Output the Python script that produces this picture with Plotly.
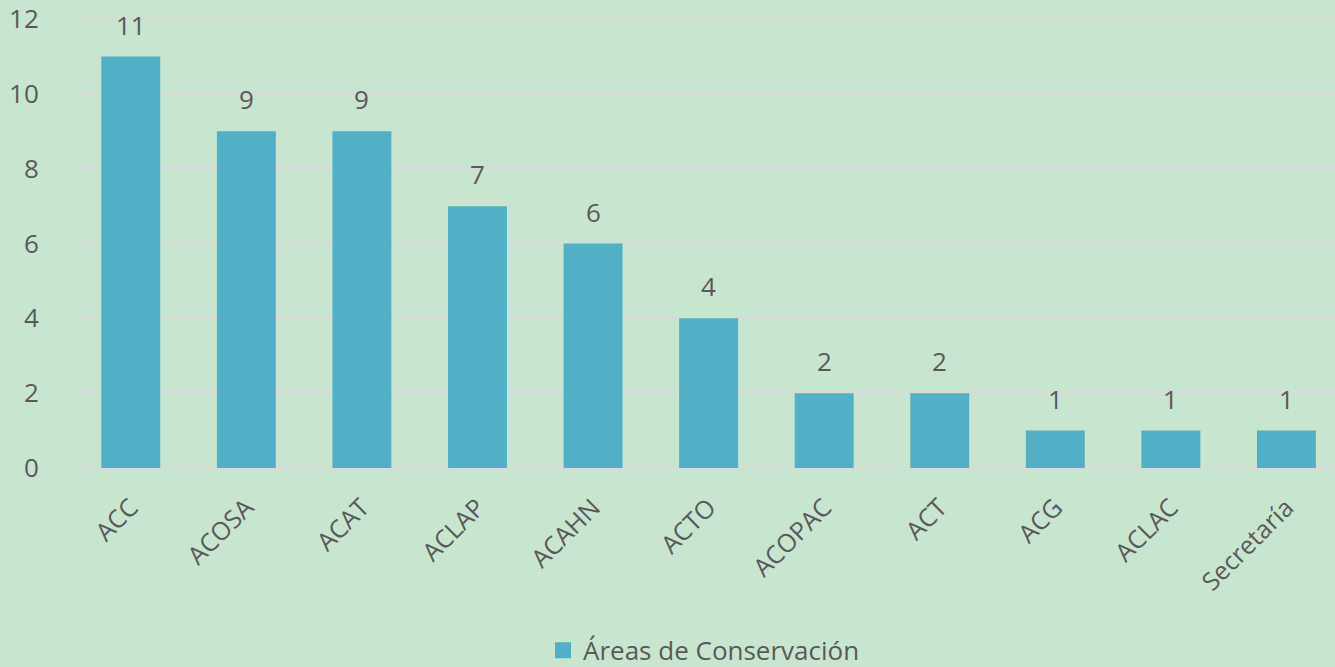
import plotly.graph_objects as go

# -- data --
AREAS = ["ACC", "ACOSA", "ACAT", "ACLAP", "ACAHN", "ACTO",
         "ACOPAC", "ACT", "ACG", "ACLAC", "Secretaría"]
COUNTS = [11, 9, 9, 7, 6, 4, 2, 2, 1, 1, 1]
Y_TICKS = [0, 2, 4, 6, 8, 10, 12]
SERIES_NAME = "Áreas de Conservación"

BG = "#c8e6cf"
BAR = "#51b0c6"
TEXT = "#595959"
GRID = "#d9d9d9"
FONT = "Open Sans, sans-serif"

fig = go.Figure()
fig.add_trace(go.Bar(
    x=AREAS,
    y=COUNTS,
    name=SERIES_NAME,
    marker=dict(color=BAR, line=dict(width=0)),
    showlegend=False,
))
# legend entry only (bigger square swatch than the bar default)
fig.add_trace(go.Scatter(
    x=[None], y=[None], mode="markers", name=SERIES_NAME,
    marker=dict(symbol="square", size=18, color=BAR),
))

# value labels above the bars
for area, n in zip(AREAS, COUNTS):
    fig.add_annotation(
        x=area, y=n, text=str(n), showarrow=False,
        yanchor="bottom", yshift=12,
        font=dict(family=FONT, size=26, color=TEXT),
    )

fig.update_layout(
    width=1335, height=667,
    paper_bgcolor=BG, plot_bgcolor=BG,
    font=dict(family=FONT, color=TEXT, size=24),
    margin=dict(l=73, r=0, t=18, b=199, autoexpand=False),
    bargap=0.49,
    legend=dict(
        orientation="h", x=0.5, xanchor="center", y=-0.405, yanchor="middle",
        font=dict(size=26, color=TEXT), bgcolor="rgba(0,0,0,0)",
        itemwidth=30,
    ),
    xaxis=dict(
        range=[-0.5, 10.42], tickangle=-45, showgrid=False, automargin=False,
        tickfont=dict(size=25, color=TEXT), showline=False,
        ticks="outside", ticklen=14, tickcolor="rgba(0,0,0,0)",
    ),
    yaxis=dict(
        range=[0, 12.03], tickvals=Y_TICKS, gridcolor=GRID, gridwidth=2,
        zeroline=True, zerolinecolor=GRID, zerolinewidth=2, automargin=False,
        tickfont=dict(size=26, color=TEXT),
        ticks="outside", ticklen=28, tickcolor="rgba(0,0,0,0)",
    ),
)

fig.write_html(
    "out.html",
    config={"displayModeBar": False},
    post_script="document.body.style.margin='0';",
)
